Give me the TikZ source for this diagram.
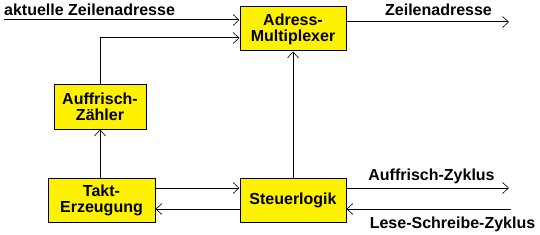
\documentclass[tikz,border=0pt]{standalone}
\usepackage{fontspec}
\setmainfont{Liberation Sans}
\usetikzlibrary{arrows.meta,calc}

\tikzset{
  block/.style={draw=black,line width=1pt,fill=yellow,align=center,
    font=\fontsize{16}{16}\selectfont\bfseries,inner sep=0pt},
  arr/.style={line width=1pt,-{Straight Barb[length=6pt,width=11pt,line width=0.6pt]}},
  lbl/.style={font=\fontsize{16}{16}\selectfont\bfseries,inner sep=0pt}
}

\begin{document}
\begin{tikzpicture}[x=1pt,y=-1pt]
\useasboundingbox (0,0) rectangle (540,235);

% Blocks
\node[block,minimum width=106,minimum height=44] (mux) at (293,29) {Adress-\\Multiplexer};
\node[block,minimum width=92,minimum height=44] (zaehler) at (100,107) {Auffrisch-\\Z\"ahler};
\node[block,minimum width=107,minimum height=44] (takt) at (101.5,200) {Takt-\\Erzeugung};
\node[block,minimum width=106,minimum height=44] (steuer) at (293,200) {Steuerlogik};

% free ends
\coordinate (ein) at (4,20);
\coordinate (aus) at (509,22);
\coordinate (zyklus) at (509,188);
\coordinate (lese) at (511,209);

% Step 1: addresses
\draw[arr] (ein) -- (ein -| mux.west);
\draw[arr] (zaehler.north) |- ([yshift=-9pt]mux.west);
\draw[arr] ([yshift=7pt]mux.east) -- (aus);

% Step 2: control
\draw[arr] (takt.north -| zaehler) -- (zaehler.south);
\draw[arr] (steuer.north) -- (mux.south);
\draw[arr] ([yshift=12pt]takt.east) -- ([yshift=12pt]steuer.west);
\draw[arr] ([yshift=-9pt]steuer.west) -- ([yshift=-9pt]takt.east);
\draw[arr] ([yshift=12pt]steuer.east) -- (zyklus);
\draw[arr] (lese) -- ([yshift=-9pt]steuer.east);

% labels
\node[lbl,anchor=base west] (l1) at (4,16) {aktuelle Zeilenadresse};
\node[lbl,anchor=base] (l2) at (438.5,16) {Zeilenadresse};
\node[lbl,anchor=base] (l3) at (431.5,180) {Auffrisch-Zyklus};
\node[lbl,anchor=base] (l4) at (452.5,228) {Lese-Schreibe-Zyklus};

\end{tikzpicture}
\end{document}
